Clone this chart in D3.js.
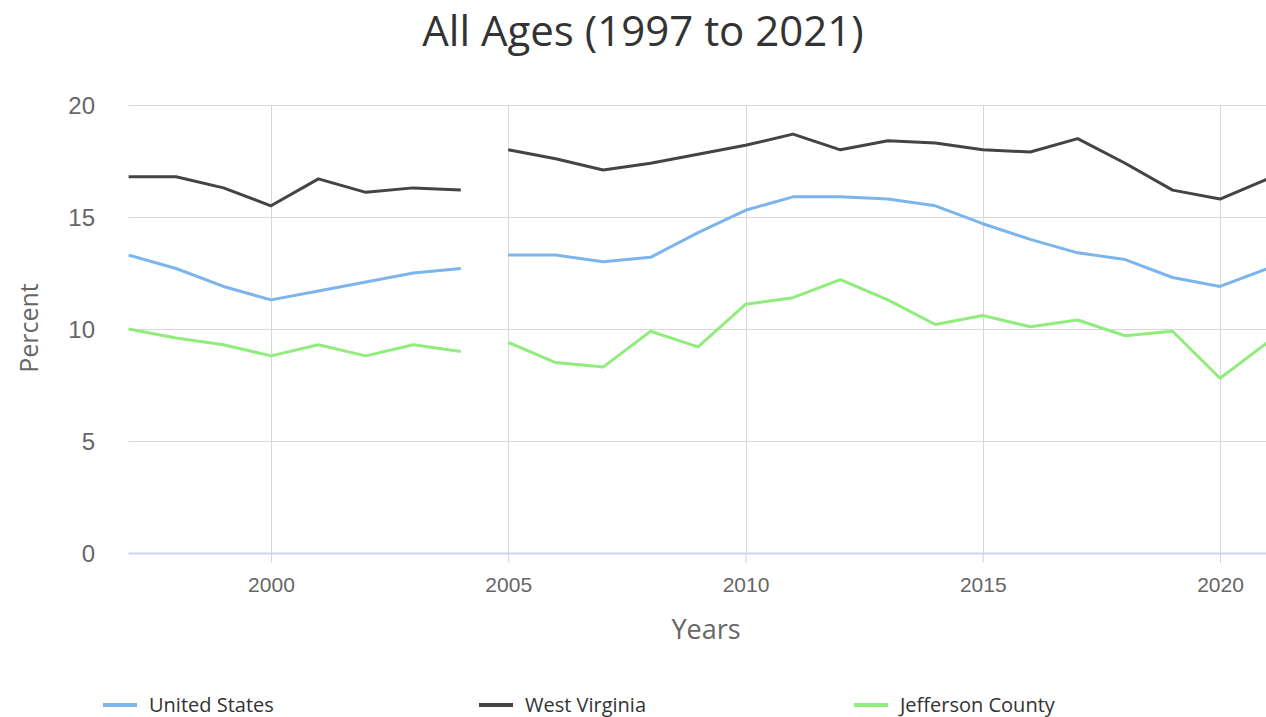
<!DOCTYPE html>
<html lang="en">
<head>
    <meta charset="UTF-8">
    <title>All Ages (1997 to 2021)</title>
    <style>
        body { margin: 0; background: #fff; }
        svg { display: block; font-family: "Open Sans", "Noto Sans", sans-serif; }
        .grid line { stroke: #d8d8d8; stroke-width: 1; }
        .ytick text { fill: #666; font-size: 24px; }
        .xtick text { fill: #666; font-size: 21px; }
    </style>
</head>
<body>
    <script src="https://cdn.jsdelivr.net/npm/d3@7"></script>
    <script>
        var width = 1266;
        var height = 717;

        // data (null = no value for that year)
        var unitedStates = [13.3, 12.7, 11.9, 11.3, 11.7, 12.1, 12.5, 12.7, null,
                            13.3, 13.3, 13.0, 13.2, 14.3, 15.3, 15.9, 15.9, 15.8,
                            15.5, 14.7, 14.0, 13.4, 13.1, 12.3, 11.9, 12.7];
        var westVirginia = [16.8, 16.8, 16.3, 15.5, 16.7, 16.1, 16.3, 16.2, null,
                            18.0, 17.6, 17.1, 17.4, 17.8, 18.2, 18.7, 18.0, 18.4,
                            18.3, 18.0, 17.9, 18.5, 17.4, 16.2, 15.8, 16.7];
        var jefferson = [10.0, 9.6, 9.3, 8.8, 9.3, 8.8, 9.3, 9.0, null,
                         9.4, 8.5, 8.3, 9.9, 9.2, 11.1, 11.4, 12.2, 11.3,
                         10.2, 10.6, 10.1, 10.4, 9.7, 9.9, 7.8, 9.4];
        // x values: the break sits between 2004 and 2005
        var xs = [1997, 1998, 1999, 2000, 2001, 2002, 2003, 2004, 2004.5,
                  2005, 2006, 2007, 2008, 2009, 2010, 2011, 2012, 2013,
                  2014, 2015, 2016, 2017, 2018, 2019, 2020, 2021];
        var xTicks = [2000, 2005, 2010, 2015, 2020];
        var yTicks = [0, 5, 10, 15, 20];

        var series = [
            { name: "United States", values: unitedStates, color: "#7cb5ec" },
            { name: "West Virginia", values: westVirginia, color: "#434348" },
            { name: "Jefferson County", values: jefferson, color: "#90ed7d" }
        ];

        var svg = d3.select("body").append("svg")
            .attr("width", width)
            .attr("height", height);

        var x = d3.scaleLinear().domain([1997, 2021]).range([128.6, 1267.5]);
        var y = d3.scaleLinear().domain([0, 20]).range([553, 105]);

        // title
        svg.append("text")
            .attr("x", 643).attr("y", 46)
            .attr("text-anchor", "middle")
            .attr("fill", "#333")
            .attr("font-size", 42)
            .text("All Ages (1997 to 2021)");

        // horizontal grid
        svg.append("g").attr("class", "grid")
            .selectAll("line").data(yTicks.filter(function(d) { return d > 0; }))
            .enter().append("line")
            .attr("x1", x.range()[0]).attr("x2", width)
            .attr("y1", function(d) { return y(d) + 0.5; })
            .attr("y2", function(d) { return y(d) + 0.5; });

        // vertical grid
        svg.append("g").attr("class", "grid")
            .selectAll("line").data(xTicks)
            .enter().append("line")
            .attr("x1", function(d) { return Math.round(x(d)) + 0.5; })
            .attr("x2", function(d) { return Math.round(x(d)) + 0.5; })
            .attr("y1", y(20)).attr("y2", y(0));

        // y axis labels
        var yAxis = svg.append("g")
            .attr("transform", "translate(" + 95 + ",0)")
            .call(d3.axisLeft(y).tickValues(yTicks).tickSize(0).tickPadding(0));
        yAxis.select(".domain").remove();
        yAxis.selectAll(".tick").attr("class", "tick ytick");
        yAxis.selectAll("text").attr("font-family", null).attr("dy", "0.35em");

        // x axis
        var xAxis = svg.append("g")
            .attr("transform", "translate(0," + y(0) + ")")
            .call(d3.axisBottom(x).tickValues(xTicks).tickFormat(d3.format("d"))
                .tickSize(10).tickPadding(14));
        xAxis.select(".domain").remove();
        xAxis.selectAll(".tick").attr("class", "tick xtick");
        xAxis.selectAll(".tick line").attr("stroke", "#ccd6eb");
        xAxis.selectAll("text").attr("font-family", null);

        svg.append("line")
            .attr("x1", x.range()[0]).attr("x2", width)
            .attr("y1", y(0) + 0.5).attr("y2", y(0) + 0.5)
            .attr("stroke", "#ccd6eb").attr("stroke-width", 2);

        // axis titles
        svg.append("text")
            .attr("x", 706).attr("y", 639)
            .attr("text-anchor", "middle")
            .attr("fill", "#666").attr("font-size", 27)
            .text("Years");
        svg.append("text")
            .attr("transform", "translate(38,328) rotate(-90)")
            .attr("text-anchor", "middle")
            .attr("fill", "#666").attr("font-size", 25)
            .text("Percent");

        // lines
        var line = d3.line()
            .defined(function(d) { return d[1] != null; })
            .x(function(d) { return x(d[0]); })
            .y(function(d) { return y(d[1]); });

        svg.append("g").selectAll("path")
            .data(series)
            .enter().append("path")
            .attr("fill", "none")
            .attr("stroke", function(d) { return d.color; })
            .attr("stroke-width", 3)
            .attr("stroke-linejoin", "round")
            .attr("d", function(d) {
                return line(d.values.map(function(v, i) { return [xs[i], v]; }));
            });

        // legend
        var legendX = [103, 479, 854];
        var legend = svg.append("g").selectAll("g")
            .data(series)
            .enter().append("g")
            .attr("transform", function(d, i) { return "translate(" + legendX[i] + ",705)"; });
        legend.append("line")
            .attr("x1", 0).attr("x2", 34)
            .attr("y1", 0).attr("y2", 0)
            .attr("stroke", function(d) { return d.color; })
            .attr("stroke-width", 4);
        legend.append("text")
            .attr("x", 46).attr("dy", "0.35em")
            .attr("fill", "#333").attr("font-size", 20)
            .text(function(d) { return d.name; });
    </script>
</body>
</html>
